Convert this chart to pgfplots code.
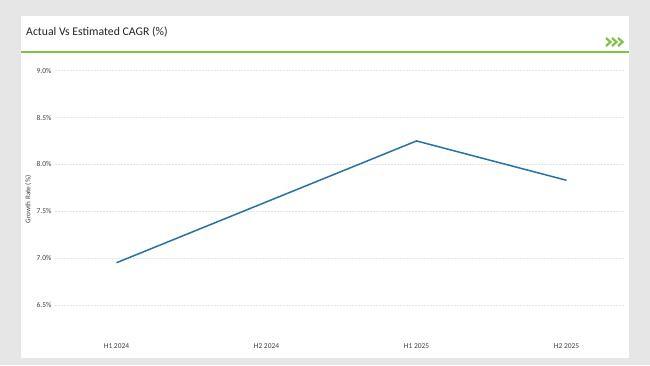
\documentclass[border=0pt]{standalone}
\usepackage{pgfplots}
\pgfplotsset{compat=1.18}
\usepackage{fontspec}
\setmainfont{Carlito}
\definecolor{bggray}{HTML}{E6E6E6}
\definecolor{titlegreen}{HTML}{7DC242}
\definecolor{lineblue}{HTML}{2372A8}
\definecolor{txt}{HTML}{404040}
\definecolor{gridc}{HTML}{E6E6E6}
\begin{document}
\begin{tikzpicture}[x=1bp,y=1bp]
\fill[bggray] (0,0) rectangle (650,365);
\fill[white] (21,7) rectangle (629,349);
\draw[titlegreen, line width=2.2bp] (21,313) -- (629,313);
\node[anchor=west, inner sep=0pt, text=black!85] at (26,333) {\fontsize{11.8}{13}\selectfont Actual Vs Estimated CAGR (\%)};
\foreach \dx in {0,6,12}{
  \draw[titlegreen, line width=2.2bp] (606+\dx,327) -- (610.5+\dx,323) -- (606+\dx,319);
}
\begin{axis}[
  at={(55bp,32bp)}, anchor=south west,
  scale only axis, width=570bp, height=267bp,
  xmin=-0.41, xmax=3.39, ymin=6.2, ymax=9.05,
  axis line style={draw=none},
  xtick={0,1,2,3},
  xticklabels={H1 2024,H2 2024,H1 2025,H2 2025},
  ytick={6.5,7.0,7.5,8.0,8.5,9.0},
  yticklabels={6.5\%,7.0\%,7.5\%,8.0\%,8.5\%,9.0\%},
  ymajorgrids,
  major grid style={gridc, line width=0.6bp, dash pattern=on 1.5bp off 1.5bp},
  tick style={draw=none},
  ticklabel style={font=\fontsize{7.5}{8.5}\selectfont, text=txt},
  xticklabel style={yshift=-7.5bp},
  ylabel={Growth Rate (\%)},
  ylabel style={font=\fontsize{7.2}{8}\selectfont, text=txt, at={(axis description cs:-0.047,0.5)}, anchor=center},
  clip=false,
]
\addplot[lineblue, line width=1.5bp] coordinates {(0,6.95) (1,7.6) (2,8.25) (3,7.83)};
\end{axis}
\end{tikzpicture}
\end{document}
